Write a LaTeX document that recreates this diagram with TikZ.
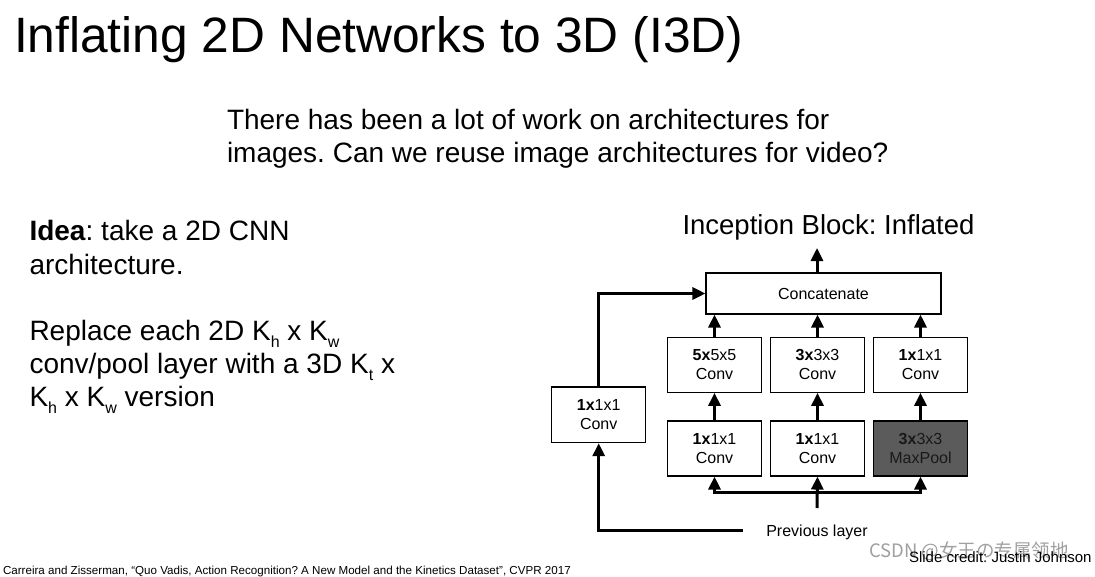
\documentclass[tikz,border=0pt]{standalone}
\usepackage{fontspec}
\setmainfont{Liberation Sans}
\newfontfamily\cjkfont{Noto Sans CJK SC}
\usetikzlibrary{arrows.meta,calc}
\definecolor{poolgray}{HTML}{5B5B5B}
\definecolor{wmgray}{HTML}{A0A0A0}
\frenchspacing
\newcommand{\sz}[2]{\fontsize{#1}{#2}\selectfont}
\newcommand{\sbs}[1]{\raisebox{-7pt}{\sz{16}{16}#1}}
\begin{document}
\begin{tikzpicture}[x=1pt,y=-1pt,
  txt/.style={anchor=base west,inner sep=0pt,outer sep=0pt},
  blk/.style={draw=black,line width=1.1pt,inner sep=0pt,align=center,
     font=\sz{16}{19}, minimum width=93.6pt, minimum height=55pt},
  conn/.style={line width=3pt,-{Triangle[length=13pt,width=12pt]}},
  plain/.style={line width=3pt}]
\useasboundingbox (0,0) rectangle (1095,576);
\fill[white] (0,0) rectangle (1095,576);
% texts
\node[txt,font=\sz{49.7}{60}] (title) at (14,52.5) {Inflating 2D Networks to 3D (I3D)};
\node[txt,font=\sz{28}{33}] (q1) at (227,129.5) {There has been a lot of work on architectures for};
\node[txt,font=\sz{28}{33}] (q2) at (227,162) {images. Can we reuse image architectures for video?};
\node[txt,font=\sz{28}{33}] (l1) at (29.5,240) {\textbf{Idea}: take a 2D CNN};
\node[txt,font=\sz{28}{33}] (l2) at (29.5,274) {architecture.};
\node[txt,font=\sz{28}{33}] (l3) at (29.5,340) {Replace each 2D K\sbs{h} x K\sbs{w}};
\node[txt,font=\sz{28}{33}] (l4) at (29.5,373) {conv/pool layer with a 3D K\sbs{t} x};
\node[txt,font=\sz{28}{33}] (l5) at (29.5,406) {K\sbs{h} x K\sbs{w} version};
\node[txt,font=\sz{27.5}{33}] (ib) at (682.5,234.5) {Inception Block: Inflated};
% boxes
\node[blk,minimum width=235pt,minimum height=41pt] (concat) at (823.5,293.5) {Concatenate};
\node[blk] (c5) at (714.5,364.8) {\textbf{5x}5x5\\Conv};
\node[blk] (c3) at (817.5,364.8) {\textbf{3x}3x3\\Conv};
\node[blk] (c1) at (920.5,364.8) {\textbf{1x}1x1\\Conv};
\node[blk] (b1) at (714.5,448.5) {\textbf{1x}1x1\\Conv};
\node[blk] (b2) at (817.5,448.5) {\textbf{1x}1x1\\Conv};
\node[blk,fill=poolgray,text=black!90] (mp) at (920.5,448.5) {\textbf{3x}3x3\\MaxPool};
\node[blk,minimum width=94pt,minimum height=55.7pt] (left) at (598.7,414.8) {\textbf{1x}1x1\\Conv};
\node[inner sep=0pt,font=\sz{16}{19},anchor=base] (prev) at (817,536.5) {Previous layer};
% coordinates
\coordinate (top) at (817,248);
\coordinate (prevL) at (743,530);
\coordinate (stem) at (817,508);
\coordinate (hb) at (817,492);
% connectors
\draw[conn] (top |- concat.north) -- (top);
\draw[conn] (c5.north) -- (c5.north |- concat.south);
\draw[conn] (c3.north) -- (c3.north |- concat.south);
\draw[conn] (c1.north) -- (c1.north |- concat.south);
\draw[conn] (b1.north) -- (c5.south);
\draw[conn] (b2.north) -- (c3.south);
\draw[conn] (mp.north) -- (c1.south);
\draw[conn] (stem) -- (b2.south);
\draw[conn] (hb) -| (b1.south);
\draw[conn] (hb) -| (mp.south);
\draw[conn] (prevL) -| (left.south);
\draw[conn] (left.north) |- (concat.west);
% footer
\node[txt,font=\sz{11.6}{13}] (ref) at (3,574.5) {Carreira and Zisserman, “Quo Vadis, Action Recognition? A New Model and the Kinetics Dataset”, CVPR 2017};
\node[txt,font=\cjkfont\sz{18.5}{20},text=wmgray] (wm) at (869,557) {CSDN @女王の专属领地};
\node[txt,font=\sz{15}{18}] (credit) at (909,562) {Slide credit: Justin Johnson};
\end{tikzpicture}
\end{document}
